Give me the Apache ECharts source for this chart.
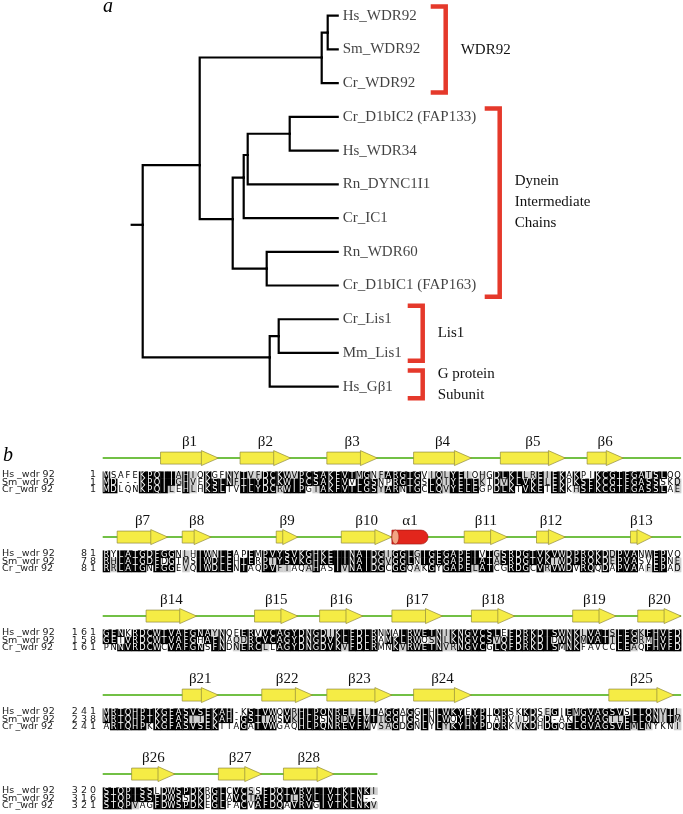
<!DOCTYPE html>
<html><head><meta charset="utf-8">
<script src="https://cdn.jsdelivr.net/npm/echarts/dist/echarts.min.js"></script>
<style>html,body{margin:0;padding:0;background:#fff}#c{width:683px;height:814px}</style>
</head><body><div id="c"></div>
<script>
// ---------------- Panel a : tree ----------------
const leafNames = ['Hs_WDR92','Sm_WDR92','Cr_WDR92','Cr_D1bIC2 (FAP133)','Hs_WDR34','Rn_DYNC1I1','Cr_IC1','Rn_WDR60','Cr_D1bIC1 (FAP163)','Cr_Lis1','Mm_Lis1','Hs_Gβ1'];
const leafParent = [12,12,13,14,14,15,16,17,17,19,19,21];
const leafDepth = 1.95;
// internal nodes 12..22 (depth = branch distance from root, row = leaf-row units)
const nodeDepth  = [1.85,1.79,1.47,1.05,1.01,1.24,0.90,1.36,0.57,1.27,0];
const nodeRow    = [0.5,1.24,3.5,4.13,4.80,7.5,6.03,9.5,4.43,10.13,6.2];
const nodeParent = [13,20,15,16,18,18,20,21,22,22,-1];
const rootStub = -0.11;
// clade brackets
const groupNames = ['WDR92','Dynein\nIntermediate\nChains','Lis1','G protein\nSubunit'];
const groupFrom  = [-0.27,2.75,8.6,10.52];
const groupTo    = [2.28,8.33,10.23,11.34];
const groupDepth = [3.03,3.57,2.80,2.80];

// ---------------- Panel b : alignment ----------------
const seqNames = ['Hs _wdr 92','Sm_wdr 92','Cr _wdr 92'];
const blockStartHs = [1,81,161,241,320];
const blockStartSm = [1,78,158,238,316];
const blockStartCr = [1,81,161,241,321];
const hsSeq = [
 'MSAFEKPQIIAHIQKGFNYTVFDCKWVPCSAKFVTMGNFARGTGVIQLYEIQHGDLKLLREIEKAKPIKCGTFGATSLQQ',
 'RYLATGDFGGNLHIWNLEAPEMPVYSVKGHKEIINAIDGIGGLGIGEGAPEIVTGSRDGTVKVWDPRQKDDPVANWEPVQ',
 'GENKRDCWTVAFGNAYNQEERVVCAGYDNGDIKLFDLRNMALRWETNIKNGVCSLEFDRKDISWNKLVATSLEGKFHVFD',
 'MRTQHPTKGFASVSEKAH-KSTVWQVRHLPQNRELFLTAGGAGGLHLWKYEYPIQRSKKDSEGIEMGVAGSVSLLQNVTL',
 'STQPISSLDWSPDKRGLCVCSSFDQTVRVLIVTKLNKI'];
const smSeq = [
 'MD---KPQIIGHVEKSLNFTLYDCKWIPCSAKFVVLGSNPRGTGSLQIYELEKTDVKLVKELEKPKSFKCGTFGASSSKD',
 'RHLATGDFDGTMSIWDLEHTERPIYSVKGHKEIINAIDGVGGLNIGEGAPEIATASRDGTVKIWDPRQKDEPVASVEPNE',
 'GETVRDCWTVAFGHAFNAQDRCVCAGYDNGDVKLFDLRAMKLRWQSNLKNGVCSVQFDRKDIDWNKMVATTLEGRMHVFD',
 'MRTQHPTKGFASITEKAH-GSTIWSVKHLPSNRDVFMTTGGTGSLNLWQYHYPTARVIDDGD-AKLGVAGTLELLQNITM',
 'STQPISSFDWSSDKPGLAVCTAFDQTLRVLIVTKLN--'];
const crSeq = [
 'MDLQNKPQILEHLHKSLTVTLYDCRWIPGTAKFVTLGSYARNTGCLQVYELEGPDLKTVKETEKKHSFKCGTFGASSLAE',
 'RRLATGNFGGEVQIWDLENTAQPVFTAQAHASIVNAIDGCGGQAKGYGAPELATCGRDGCVRVWDVRQQDAPVAAFEPAD',
 'PNNVRDCWCVAFGNSFNDNERCLLAGYDNGDVKVFDLRMNKVRWETNVRNGVCGLQFDRKDISMNKFAVCCLEAQFHVFD',
 'ARTQHPKKGFASVSEKITAGATVWGAQHLPQNREVFMVSAGDGNLYLYKYHYPDQRKVKDHDGQELGVAGSVEMLNYKNI',
 'STQPVAGFDWSPDKEGLFACVAFDQAVRVGIVTKLNKV'];
// secondary structure (alignment columns within each block)
const ssNames = ['β1','β2','β3','β4','β5','β6','β7','β8','β9','β10','α1','β11','β12','β13','β14','β15','β16','β17','β18','β19','β20','β21','β22','β23','β24','β25','β26','β27','β28'];
const ssBlock = [0,0,0,0,0,0, 1,1,1,1,1,1,1,1, 2,2,2,2,2,2,2, 3,3,3,3,3, 4,4,4];
const ssStart = [9,20,32,44,56,68, 3,12,25,34,41,51,61,74, 7,22,31,41,52,66,75, 12,23,32,44,71, 5,17,26];
const ssEnd   = [16,26,38,51,64,72, 9,15,27,40,45,56,64,76, 13,27,36,47,57,71,80, 16,29,40,51,79, 10,22,32];
const ssLineEnd = [80,80,80,80,38];

// ---------------- shading (BoxShade-style consensus) ----------------
const simGroups = ['ILVM','FYW','KRH','DE','NQ','ST','AG'];
function grp(a){ for (let i=0;i<simGroups.length;i++) if (simGroups[i].indexOf(a)>=0) return i; return -1; }
function shadeColumn(ch){
  const res=[0,0,0]; let cons=null;
  for (const c of ch){ if (c==='-') continue; if (ch.filter(x=>x===c).length>=2){cons=c;break;} }
  if (cons){
    ch.forEach((c,i)=>{ if (c===cons) res[i]=2; else if (c!=='-' && grp(c)>=0 && grp(c)===grp(cons)) res[i]=1; });
  } else {
    ch.forEach((c,i)=>{ if (c==='-') return; const g=grp(c); if (g<0) return;
      if (ch.filter(x=>x!=='-'&&grp(x)===g).length>=2) res[i]=1; });
  }
  return res;
}

// ---------------- layout constants ----------------
const ROW_H = 7.2;
const SS_ROW = -1.85;          // row units (row 0 = Hs)
const blockHsCenter = [475,554,633,712,791];
const SEQ_LEFT = 102.7, SEQ_W = 578.4;
const SERIF = '"Liberation Serif","Times New Roman",serif';
const SANS = '"DejaVu Sans","Liberation Sans",sans-serif';
const YELLOW = '#f5ec45', YEL_STROKE = '#8f8a3c', RED = '#e5392b', GREEN = '#72c045';

const grids = [], xAxes = [], yAxes = [], series = [];
// tree grid
grids.push({left:131.7, top:15.7, width:206, height:371});
xAxes.push({type:'value', gridIndex:0, min:rootStub, max:leafDepth, show:false});
yAxes.push({type:'value', gridIndex:0, min:0, max:11, inverse:true, show:false});

const allDepth = leafNames.map(()=>leafDepth).concat(nodeDepth);
const allRow = leafNames.map((_,i)=>i).concat(nodeRow);
const allParent = leafParent.concat(nodeParent);
const edgeData = [];
allParent.forEach((p,i)=>{ if (p>=0) edgeData.push([allDepth[i],allRow[i],allDepth[p],allRow[p]]); });
const rootIdx = allParent.indexOf(-1);
edgeData.push([rootStub, allRow[rootIdx], allDepth[rootIdx], allRow[rootIdx]]);

series.push({
  type:'custom', xAxisIndex:0, yAxisIndex:0, clip:false, silent:true,
  data: edgeData,
  renderItem(params, api){
    const a = api.coord([api.value(2), api.value(3)]);
    const b = api.coord([api.value(2), api.value(1)]);
    const c = api.coord([api.value(0), api.value(1)]);
    return {type:'polyline', shape:{points:[a,b,c]}, style:{stroke:'#000', lineWidth:2.2, fill:null, lineJoin:'miter', lineCap:'square'}};
  }
});
series.push({
  type:'scatter', xAxisIndex:0, yAxisIndex:0, symbolSize:0, silent:true,
  data: leafNames.map((n,i)=>[leafDepth,i]),
  label:{show:true, position:'right', distance:5, color:'#111', fontFamily:SERIF, fontSize:15,
    formatter:(p)=>leafNames[p.dataIndex]}
});
series.push({
  type:'custom', xAxisIndex:0, yAxisIndex:0, clip:false, silent:true,
  data: groupNames.map((n,i)=>[groupDepth[i], groupFrom[i], groupTo[i]]),
  renderItem(params, api){
    const t = api.coord([api.value(0), api.value(1)]);
    const b = api.coord([api.value(0), api.value(2)]);
    const tick = 15;
    return {type:'group', children:[
      {type:'polyline', shape:{points:[[t[0]-tick,t[1]],[t[0],t[1]],[b[0],b[1]],[b[0]-tick,b[1]]]},
       style:{stroke:RED, lineWidth:4.5, fill:null, lineJoin:'miter'}},
      {type:'text', style:{text:groupNames[params.dataIndex], x:t[0]+15, y:(t[1]+b[1])/2,
       align:'left', verticalAlign:'middle', fill:'#111', font:'15px '+SERIF, lineHeight:21}}
    ]};
  }
});

// alignment blocks
for (let b=0;b<5;b++){
  const gi = b+1;
  const top = blockHsCenter[b] - ROW_H/2 - 5.5*ROW_H;
  grids.push({left:SEQ_LEFT, top:top, width:SEQ_W, height:8.5*ROW_H});
  xAxes.push({type:'value', gridIndex:gi, min:0, max:80, show:false});
  yAxes.push({type:'value', gridIndex:gi, min:-5.5, max:3, inverse:true, show:false});
  const seqs = [hsSeq[b], smSeq[b], crSeq[b]];
  const cells = [];
  for (let c=0;c<seqs[0].length;c++){
    const col = seqs.map(s=>s[c]);
    const sh = shadeColumn(col);
    for (let r=0;r<3;r++) cells.push({c:c+1, r:r, ch:col[r], sh:sh[r]});
  }
  // green line
  series.push({type:'line', xAxisIndex:gi, yAxisIndex:gi, silent:true, symbol:'none', z:1,
    lineStyle:{color:GREEN, width:2}, data:[[0,SS_ROW],[ssLineEnd[b],SS_ROW]]});
  // secondary structure
  const ssIdx = ssBlock.map((v,i)=>v===b?i:-1).filter(i=>i>=0);
  series.push({type:'custom', xAxisIndex:gi, yAxisIndex:gi, clip:false, silent:true, z:3,
    data: ssIdx.map(i=>[ssStart[i]-1, ssEnd[i], SS_ROW, i]),
    renderItem(params, api){
      const i = api.value(3);
      const p0 = api.coord([api.value(0), api.value(2)]);
      const p1 = api.coord([api.value(1), api.value(2)]);
      const x0=p0[0], x1=p1[0], cy=p0[1];
      const name = ssNames[i];
      const children = [];
      if (name[0]==='α'){
        children.push({type:'rect', shape:{x:x0, y:cy-7, width:x1-x0, height:14, r:[0,7,7,0]}, style:{fill:'#e2261c', stroke:'#9a1a12', lineWidth:0.6}});
        children.push({type:'ellipse', shape:{cx:x0+3.5, cy:cy, rx:3.5, ry:7}, style:{fill:'#f3a483', stroke:'#9a1a12', lineWidth:0.6}});
      } else {
        const H = Math.min(17, (x1-x0)*0.7);
        const xh = x1-H;
        children.push({type:'polygon', shape:{points:[[x0,cy-6],[xh,cy-6],[xh,cy-7.5],[x1,cy],[xh,cy+7.5],[xh,cy+6],[x0,cy+6]]},
          style:{fill:YELLOW, stroke:YEL_STROKE, lineWidth:0.7}});
        children.push({type:'line', shape:{x1:xh, y1:cy-6, x2:xh, y2:cy+6}, style:{stroke:YEL_STROKE, lineWidth:0.7}});
      }
      children.push({type:'text', style:{text:name, x:(x0+x1)/2, y:cy-16.5, align:'center', verticalAlign:'middle', fill:'#111', font:'15px '+SERIF}});
      return {type:'group', children};
    }});
  // residues
  series.push({type:'custom', xAxisIndex:gi, yAxisIndex:gi, clip:false, silent:true, z:2,
    data: cells.map(o=>[o.c, o.r]),
    renderItem(params, api){
      const o = cells[params.dataIndex];
      const a = api.coord([o.c-1, o.r]);
      const z = api.coord([o.c, o.r+1]);
      const bg = o.sh===2 ? '#000' : (o.sh===1 ? '#cfcfcf' : null);
      const ch = [];
      if (bg) ch.push({type:'rect', shape:{x:a[0], y:a[1], width:z[0]-a[0]+0.3, height:z[1]-a[1]+0.3}, style:{fill:bg}});
      ch.push({type:'text', style:{text:o.ch, x:(a[0]+z[0])/2, y:(a[1]+z[1])/2+0.4, align:'center', verticalAlign:'middle',
        fill: o.sh===2 ? '#fff' : '#000', font:'8.3px '+SANS}});
      return {type:'group', children:ch};
    }});
  // row names and numbers
  const starts = [blockStartHs[b], blockStartSm[b], blockStartCr[b]];
  series.push({type:'custom', xAxisIndex:gi, yAxisIndex:gi, clip:false, silent:true,
    data: [[0,0],[0,1],[0,2]],
    renderItem(params, api){
      const r = api.value(1);
      const y = api.coord([0, r+0.5])[1];
      return {type:'group', children:[
        {type:'text', style:{text:seqNames[r], x:2, y:y, align:'left', verticalAlign:'middle', fill:'#222', font:'9.5px '+SANS}},
        {type:'text', style:{text:String(starts[r]).split('').join(' '), x:96, y:y, align:'right', verticalAlign:'middle', fill:'#222', font:'9.5px '+SANS}}
      ]};
    }});
}

const chart = echarts.init(document.getElementById('c'), null, {renderer:'canvas'});
chart.setOption({
  animation:false,
  backgroundColor:'#fff',
  grid:grids, xAxis:xAxes, yAxis:yAxes, series:series,
  graphic:[
    {type:'text', left:103, top:-3, style:{text:'a', font:'italic 20px '+SERIF, fill:'#000'}},
    {type:'text', left:3, top:446, style:{text:'b', font:'italic 20px '+SERIF, fill:'#000'}}
  ]
});
</script>
</body></html>
